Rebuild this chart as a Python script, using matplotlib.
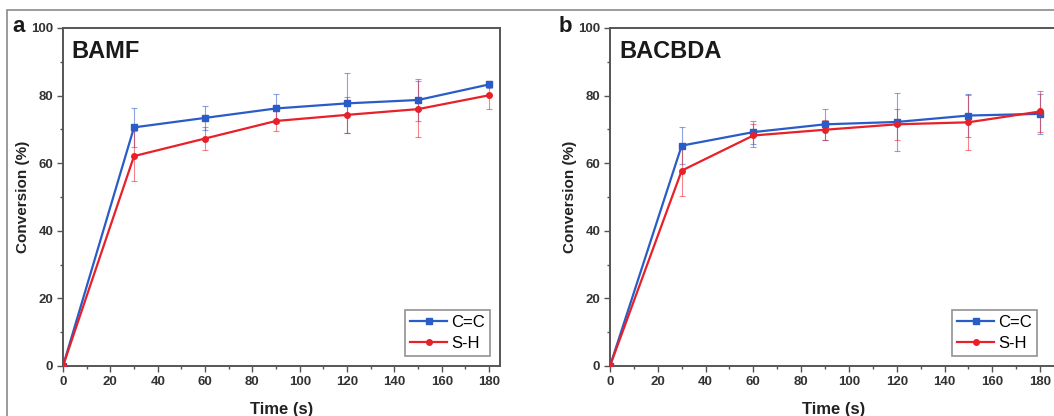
import matplotlib
matplotlib.use("Agg")
import matplotlib.pyplot as plt
from matplotlib.patches import Rectangle
from matplotlib.ticker import MultipleLocator

plt.rcParams['font.family'] = ['Liberation Sans', 'DejaVu Sans']

# time points (s)
time_s = [0, 30, 60, 90, 120, 150, 180]

# panel a: BAMF
bamf_cc = [0, 70.6, 73.4, 76.2, 77.7, 78.7, 83.3]
bamf_cc_err = [0, 5.7, 3.5, 4.2, 8.9, 6.2, 1.0]
bamf_sh = [0, 62.1, 67.3, 72.5, 74.3, 76.0, 80.1]
bamf_sh_err = [0, 7.5, 3.5, 3.0, 5.3, 8.2, 4.0]

# panel b: BACBDA
bacbda_cc = [0, 65.2, 69.2, 71.5, 72.2, 74.1, 74.6]
bacbda_cc_err = [0, 5.5, 3.4, 4.6, 8.6, 6.4, 6.0]
bacbda_sh = [0, 57.8, 68.2, 69.9, 71.5, 72.1, 75.3]
bacbda_sh_err = [0, 7.4, 3.5, 3.0, 4.5, 8.2, 6.2]

panels = [
    ("a", "BAMF", bamf_cc, bamf_cc_err, bamf_sh, bamf_sh_err),
    ("b", "BACBDA", bacbda_cc, bacbda_cc_err, bacbda_sh, bacbda_sh_err),
]

BLUE = "#2a5cc8"
RED = "#e8202a"
SPINE = "#555555"

fig = plt.figure(figsize=(10.54, 4.16), dpi=100)

# outer grey frame around the whole figure (bottom/right run off the image)
fig.patches.append(Rectangle((7 / 1054, -0.1), 1.2, 1.1 - 10 / 416,
                             transform=fig.transFigure, fill=False,
                             edgecolor="#8a8a8a", linewidth=1.2))

# axes positions in pixels
ax_lefts = [63, 610]
ax_widths = [437, 448]
xmax = [184.6, 187.5]
ax_top = 28
ax_bottom = 366

for i, (letter, name, cc, cc_err, sh, sh_err) in enumerate(panels):
    left = ax_lefts[i]
    ax = fig.add_axes([left / 1054, 1 - ax_bottom / 416,
                       ax_widths[i] / 1054, (ax_bottom - ax_top) / 416])

    # error bars (skip t=0, no spread there), drawn lighter
    ax.errorbar(time_s[1:], cc[1:], yerr=cc_err[1:], fmt="none", ecolor=BLUE,
                elinewidth=0.8, capsize=2, capthick=0.8, alpha=0.55, zorder=2)
    ax.errorbar(time_s[1:], sh[1:], yerr=sh_err[1:], fmt="none", ecolor=RED,
                elinewidth=0.8, capsize=2, capthick=0.8, alpha=0.55, zorder=2)
    ax.plot(time_s, cc, color=BLUE, marker="s", markersize=4, linewidth=1.6,
            label="C=C", zorder=3)
    ax.plot(time_s, sh, color=RED, marker="o", markersize=4, linewidth=1.6,
            label="S-H", zorder=4)

    ax.set_xlim(0, xmax[i])
    ax.set_ylim(0, 100)
    ax.xaxis.set_major_locator(MultipleLocator(20))
    ax.xaxis.set_minor_locator(MultipleLocator(10))
    ax.yaxis.set_major_locator(MultipleLocator(20))
    ax.yaxis.set_minor_locator(MultipleLocator(10))
    ax.tick_params(which="both", direction="out", top=False, right=False,
                   color=SPINE, width=1.0)
    ax.tick_params(which="major", length=4, labelsize=9.5, pad=3)
    ax.tick_params(which="minor", length=2.5)
    for lab in ax.get_xticklabels() + ax.get_yticklabels():
        lab.set_fontweight("bold")
        lab.set_color("#333333")
    for sp in ax.spines.values():
        sp.set_color(SPINE)
        sp.set_linewidth(1.4)

    ax.set_xlabel("Time (s)", fontsize=12, fontweight="bold", labelpad=10,
                  color="#222222")
    ax.set_ylabel("Conversion (%)", fontsize=11, fontweight="bold", labelpad=1,
                  color="#222222")

    ax.text(0.02, 0.965, name, transform=ax.transAxes, fontsize=17,
            fontweight="bold", va="top", ha="left", color="#1a1a1a")

    fig.text((left - 51) / 1054, 1 - 32 / 416, letter, fontsize=16,
             fontweight="bold", color="#1a1a1a", ha="left", va="baseline")

    leg = ax.legend(loc="lower right", bbox_to_anchor=(437 / ax_widths[i], 0),
                    fontsize=12, frameon=True, fancybox=False,
                    edgecolor="#777777", handlelength=2.2, handletextpad=0.25,
                    borderpad=0.3, labelspacing=0.35, borderaxespad=0.6)
    leg.get_frame().set_linewidth(1.2)

fig.savefig("out.png", dpi=100)
